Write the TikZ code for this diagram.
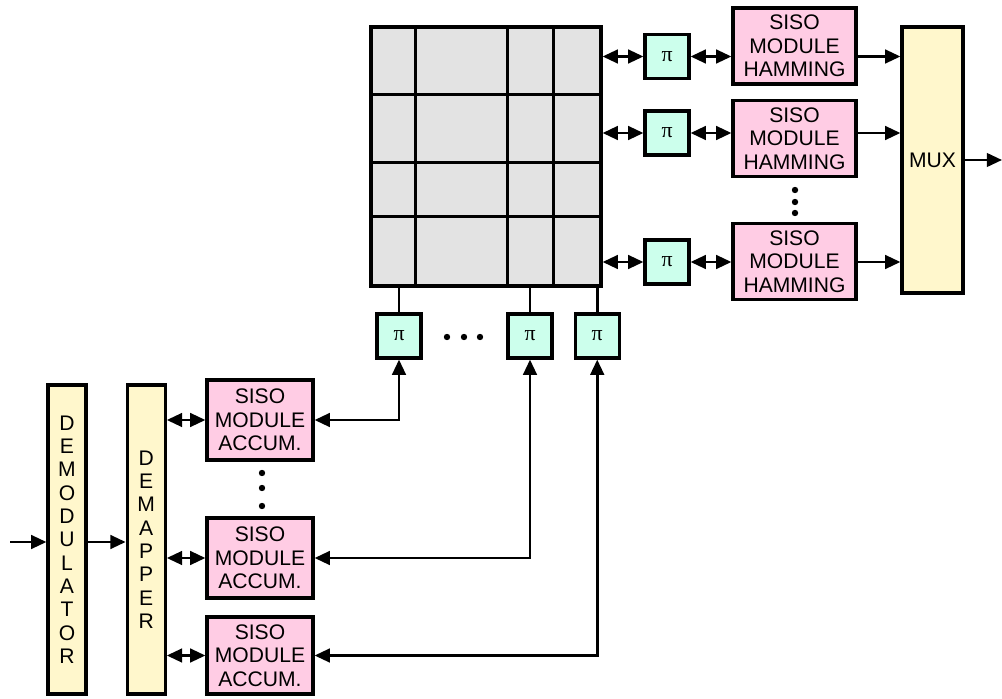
\documentclass[tikz,border=0pt]{standalone}
\usepackage{fontspec}
\setmainfont{Liberation Sans}
\newfontfamily\pifont{Liberation Serif}
\usetikzlibrary{positioning,arrows.meta}
\definecolor{gridgray}{RGB}{227,227,227}
\definecolor{permcyan}{RGB}{204,255,236}
\definecolor{sisopink}{RGB}{255,204,228}
\definecolor{muxyellow}{RGB}{255,247,204}

\begin{document}
\begin{tikzpicture}[
  blk/.style={draw, line width=2.3pt, align=center, inner sep=0pt,
              font=\fontsize{15}{16.6}\selectfont},
  siso/.style={blk, fill=sisopink, minimum width=2.65cm, minimum height=2cm},
  hamm/.style={blk, fill=sisopink, minimum width=3.075cm, minimum height=1.9cm},
  perm/.style={blk, fill=permcyan, minimum width=1.1cm, minimum height=1.1cm,
               font=\pifont\fontsize{15.5}{15.5}\selectfont},
  tall/.style={blk, fill=muxyellow, minimum width=0.95cm, minimum height=7.725cm},
  arr/.style={-{Triangle[length=3.8mm,width=3.4mm]}, line width=1.8pt},
  dbl/.style={{Triangle[length=3.8mm,width=3.4mm]}-{Triangle[length=3.8mm,width=3.4mm]},
              line width=1.8pt},
  dot/.style={circle, fill, inner sep=0pt, minimum size=1.6mm},
  node distance=0.5cm
]
\useasboundingbox (0,0) rectangle (25.05,17.45);

% receiver front end
\coordinate (in) at (0.25,3.9);
\node[tall] (demod) at (1.675,3.9625) {D\\E\\M\\O\\D\\U\\L\\A\\T\\O\\R};
\node[tall, right=0.95cm of demod] (demap) {D\\E\\M\\A\\P\\P\\E\\R};

% accumulator decoders
\node[siso] (acc1) at (6.5,6.95) {SISO\\MODULE\\ACCUM.};
\node[siso] (acc2) at (6.5,3.5) {SISO\\MODULE\\ACCUM.};
\node[siso, minimum height=1.925cm] (acc3) at (6.5,1.0625) {SISO\\MODULE\\ACCUM.};
\node[dot] (ad1) at (6.55,5.625) {};
\node[dot] (ad2) at (6.55,5.25) {};
\node[dot] (ad3) at (6.55,4.8) {};

% interleaver matrix
\node[draw, line width=2.3pt, fill=gridgray, minimum width=5.75cm,
      minimum height=6.475cm, inner sep=0pt] (grid) at (12.15,13.5375) {};
\foreach \dx in {1.15,3.45,4.6}
  \draw[line width=2.1pt] ([xshift=\dx cm]grid.north west) -- ([xshift=\dx cm]grid.south west);
\foreach \dy in {1.725,3.425,4.775}
  \draw[line width=2.1pt] ([yshift=-\dy cm]grid.north west) -- ([yshift=-\dy cm]grid.north east);

% column interleavers
\node[perm] (pib1) at (9.975,9.05) {π};
\node[perm] (pib2) at (13.25,9.05) {π};
\node[perm, right=0.5cm of pib2] (pib3) {π};
\node[dot] (bd1) at (11.175,9.025) {};
\node[dot] (bd2) at (11.6,9.025) {};
\node[dot] (bd3) at (12.0,9.025) {};

% row interleavers and Hamming decoders
\node[perm] (pir1) at (16.675,16.0375) {π};
\node[perm] (pir2) at (16.675,14.125) {π};
\node[perm] (pir3) at (16.675,10.9) {π};
\node[hamm] (ham1) at (19.8625,16.3) {SISO\\MODULE\\HAMMING};
\node[hamm] (ham2) at (19.8625,13.9875) {SISO\\MODULE\\HAMMING};
\node[hamm] (ham3) at (19.8625,10.9125) {SISO\\MODULE\\HAMMING};
\node[dot] (hd1) at (19.875,12.7) {};
\node[dot] (hd2) at (19.875,12.4) {};
\node[dot] (hd3) at (19.875,12.125) {};

\node[blk, fill=muxyellow, minimum width=1.525cm, minimum height=6.65cm] (mux)
  at (23.3125,13.45) {MUX};
\coordinate (out) at (25.05,13.45);

% connections
\draw[arr] (in) -- (in -| demod.west);
\draw[arr] (demod.east |- in) -- (in -| demap.west);
\foreach \a in {acc1,acc2,acc3}
  \draw[dbl] (demap.east |- \a) -- (\a);
\draw[dbl] (pib1) |- (acc1);
\draw[dbl] (pib2) |- (acc2);
\draw[dbl] (pib3) |- (acc3);
\foreach \p in {pib1,pib2,pib3}
  \draw[line width=1.8pt] (\p) -- (\p |- grid.south);
\foreach \i in {1,2,3} {
  \draw[dbl] (pir\i -| grid.east) -- (pir\i);
  \draw[dbl] (pir\i) -- (pir\i -| ham\i.west);
  \draw[arr] (ham\i.east |- pir\i) -- (pir\i -| mux.west);
}
\draw[arr] (mux) -- (out);
\end{tikzpicture}
\end{document}
